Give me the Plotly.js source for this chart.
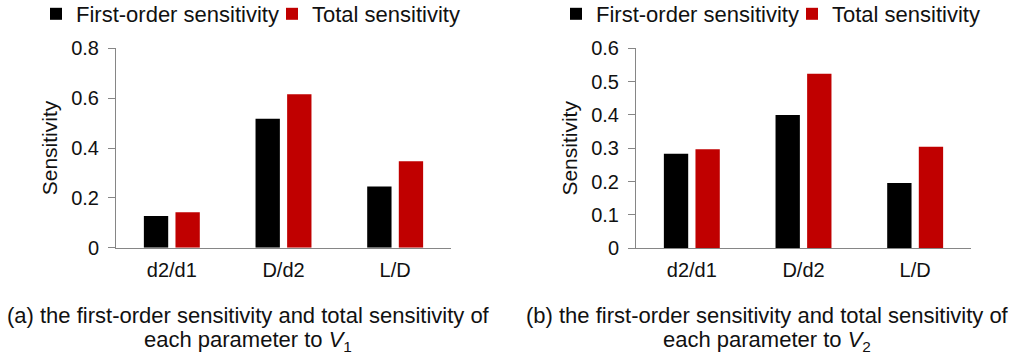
<!DOCTYPE html>
<html>
<head>
<meta charset="utf-8">
<script src="https://cdn.plot.ly/plotly-3.0.1.min.js"></script>
<style>
  html, body { margin: 0; padding: 0; background: #ffffff; }
  #chart { width: 1010px; height: 358px; }
</style>
</head>
<body>
<div id="chart"></div>
<script>
// Parameters studied
const categories = ['d2/d1', 'D/d2', 'L/D'];

// Sensitivity indices with respect to V1
const firstOrderV1 = [0.127, 0.517, 0.246];
const totalV1 = [0.142, 0.616, 0.347];

// Sensitivity indices with respect to V2
const firstOrderV2 = [0.284, 0.400, 0.196];
const totalV2 = [0.297, 0.524, 0.305];

const seriesNames = ['First-order sensitivity', 'Total sensitivity'];
const seriesColors = ['#000000', '#C00000'];

const yTicksV1 = [0, 0.2, 0.4, 0.6, 0.8];
const yTickTextV1 = ['0', '0.2', '0.4', '0.6', '0.8'];
const yTicksV2 = [0, 0.1, 0.2, 0.3, 0.4, 0.5, 0.6];
const yTickTextV2 = ['0', '0.1', '0.2', '0.3', '0.4', '0.5', '0.6'];

const captionA1 = '(a) the first-order sensitivity and total sensitivity of';
const captionA2 = 'each parameter to <i>V</i><sub>1</sub>';
const captionB1 = '(b) the first-order sensitivity and total sensitivity of';
const captionB2 = 'each parameter to <i>V</i><sub>2</sub>';

const FONT = 'Liberation Sans, Arial, Helvetica, sans-serif';
const TEXT = '#111111';
const AXIS = '#868686';
const W = 1010, H = 358;

function bar(x, y, i, xa, ya, legend) {
  return {
    type: 'bar', x: x, y: y, name: seriesNames[i],
    marker: { color: seriesColors[i], line: { width: 0 } },
    xaxis: xa, yaxis: ya, legend: legend,
    hoverinfo: 'x+y+name'
  };
}

const data = [
  bar(categories, firstOrderV1, 0, 'x', 'y', 'legend'),
  bar(categories, totalV1, 1, 'x', 'y', 'legend'),
  bar(categories, firstOrderV2, 0, 'x2', 'y2', 'legend2'),
  bar(categories, totalV2, 1, 'x2', 'y2', 'legend2')
];

function xAxis(domain, anchor) {
  return {
    domain: domain, anchor: anchor,
    showline: true, linecolor: AXIS, linewidth: 1,
    ticks: '', showgrid: false, zeroline: false,
    tickfont: { family: FONT, size: 20, color: TEXT },
    ticklabelstandoff: 4,
    automargin: false,
    fixedrange: true
  };
}

function yAxis(domain, anchor, range, vals, text) {
  return {
    domain: domain, anchor: anchor, range: range,
    tickvals: vals, ticktext: text,
    showline: true, linecolor: AXIS, linewidth: 1,
    ticks: 'outside', ticklen: 7, tickcolor: AXIS, tickwidth: 1,
    ticklabelstandoff: 5,
    showgrid: false, zeroline: false,
    tickfont: { family: FONT, size: 20, color: TEXT },
    title: { text: 'Sensitivity', font: { family: FONT, size: 21, color: TEXT }, standoff: 7 },
    automargin: false,
    fixedrange: true
  };
}

function legendAt(xpx) {
  return {
    orientation: 'h', x: xpx / W, xanchor: 'left',
    y: 1 - 14 / H, yanchor: 'middle',
    font: { family: FONT, size: 22, color: TEXT },
    bgcolor: 'rgba(0,0,0,0)', borderwidth: 0,
    itemwidth: 30, entrywidth: 191, traceorder: 'normal'
  };
}

function caption(text, xpx, ypx) {
  return {
    text: text, xref: 'paper', yref: 'paper',
    x: xpx / W, y: 1 - ypx / H, xanchor: 'center', yanchor: 'middle',
    showarrow: false,
    font: { family: FONT, size: 22, color: TEXT }
  };
}

const layout = {
  width: W, height: H,
  margin: { l: 0, r: 0, t: 0, b: 0, autoexpand: false },
  paper_bgcolor: '#ffffff', plot_bgcolor: '#ffffff',
  barmode: 'group', bargap: 0.434, bargroupgap: 0.23,
  showlegend: true,
  xaxis: xAxis([116 / W, 451 / W], 'y'),
  yaxis: yAxis([1 - 247.7 / H, 1 - 48.3 / H], 'x', [0, 0.8], yTicksV1, yTickTextV1),
  xaxis2: xAxis([636 / W, 971 / W], 'y2'),
  yaxis2: yAxis([1 - 248.3 / H, 1 - 48.3 / H], 'x2', [0, 0.6], yTicksV2, yTickTextV2),
  legend: legendAt(36),
  legend2: legendAt(556),
  annotations: [
    caption(captionA1, 248, 315),
    caption(captionA2, 248, 341),
    caption(captionB1, 767, 315),
    caption(captionB2, 767, 341)
  ]
};

Plotly.newPlot('chart', data, layout, { displayModeBar: false, staticPlot: true });
</script>
</body>
</html>
